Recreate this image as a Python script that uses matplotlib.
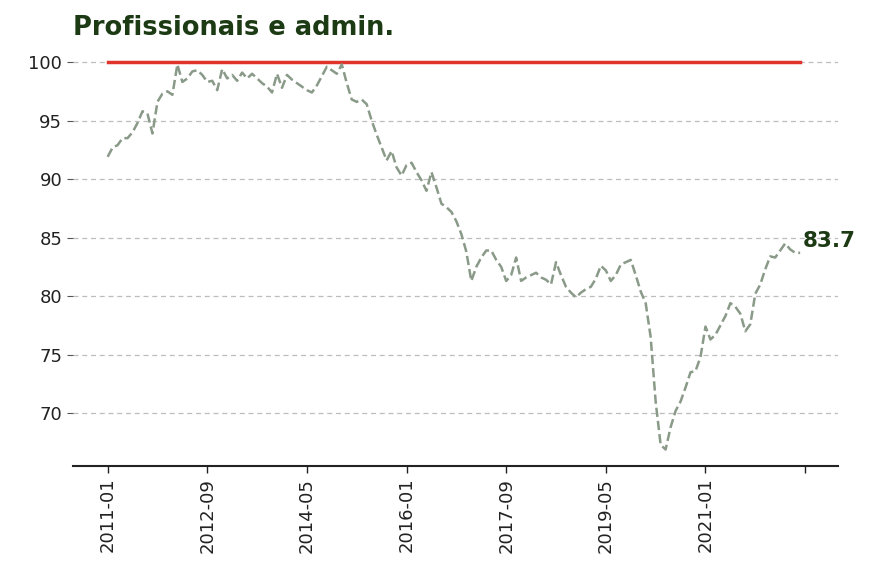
import matplotlib
matplotlib.use("Agg")
import matplotlib.pyplot as plt
import pandas as pd

title = "Profissionais e admin."
reference_level = 100
dates = pd.date_range("2011-01-01", periods=140, freq="MS").strftime("%Y-%m").tolist()
values = [
    91.9, 92.7, 92.9, 93.5, 93.5, 94.0, 94.8, 95.8, 95.6, 93.9,
    96.6, 97.3, 97.5, 97.2, 99.8, 98.3, 98.6, 99.2, 99.3, 98.9,
    98.3, 98.4, 97.6, 99.4, 98.6, 98.9, 98.4, 99.1, 98.6, 99.0,
    98.6, 98.2, 97.9, 97.4, 99.0, 97.8, 98.9, 98.5, 98.2, 97.9,
    97.6, 97.4, 98.0, 98.8, 99.6, 99.3, 99.0, 99.8, 98.2, 96.8,
    96.6, 96.8, 96.4, 95.0, 93.8, 92.7, 91.6, 92.4, 91.0, 90.3,
    91.2, 91.4, 90.6, 89.9, 89.0, 90.6, 89.3, 87.9, 87.6, 87.2,
    86.4, 85.3, 83.8, 81.3, 82.5, 83.3, 83.9, 83.9, 83.1, 82.5,
    81.3, 81.8, 83.3, 81.3, 81.6, 81.8, 82.0, 81.6, 81.4, 81.0,
    82.9, 81.8, 80.8, 80.3, 79.9, 80.3, 80.6, 80.8, 81.5, 82.6,
    82.2, 81.3, 81.8, 82.7, 82.9, 83.1, 81.8, 80.4, 79.4, 76.5,
    71.0, 67.3, 66.9, 68.8, 70.2, 71.0, 72.2, 73.5, 73.6, 74.8,
    77.4, 76.3, 76.7, 77.5, 78.3, 79.4, 79.1, 78.5, 77.0, 77.6,
    80.2, 81.0, 82.3, 83.4, 83.3, 83.9, 84.5, 84.0, 83.7, 83.7,
]
yticks = [70, 75, 80, 85, 90, 95, 100]
tick_step = 20

fig = plt.figure(figsize=(8.72, 5.62), dpi=100)
ax = fig.add_axes([0.084, 0.171, 0.877, 0.754])

idx = list(range(len(values)))
ax.plot(idx, [reference_level] * len(values), color="#e0332b", linewidth=2.5, zorder=3)
ax.plot(idx, values, color="#8a9a88", linestyle="--", linewidth=1.8, zorder=4)

ax.set_ylim(65.5, 101.7)
ax.set_xlim(-6.9, 146.6)
ax.set_yticks(yticks)
ax.yaxis.grid(True, linestyle=(0, (4, 3)), color="#bdbdbd", linewidth=0.9)
ax.set_axisbelow(True)

xt = list(range(0, len(values) + 1, tick_step))
xl = [dates[i] if i < len(dates) else "" for i in xt]
ax.set_xticks(xt)
ax.set_xticklabels(xl, rotation=90)

for s in ["top", "right", "left"]:
    ax.spines[s].set_visible(False)
ax.spines["bottom"].set_linewidth(1.5)
ax.spines["bottom"].set_color("#222222")
ax.tick_params(axis="y", labelsize=13, length=4, color="#555555", labelcolor="#222222", pad=4)
ax.tick_params(axis="x", labelsize=13, length=5, width=1.0, color="#222222", labelcolor="#222222")

ax.set_title(title, loc="left", fontsize=18.5, fontweight="bold", color="#1c3a13", pad=5)
ax.text(len(values) - 0.4, values[-1] + 1.0, f"{values[-1]:.1f}", fontsize=15.5,
        fontweight="bold", color="#1c3a13", va="center", ha="left")

fig.savefig("out.png", dpi=100)
